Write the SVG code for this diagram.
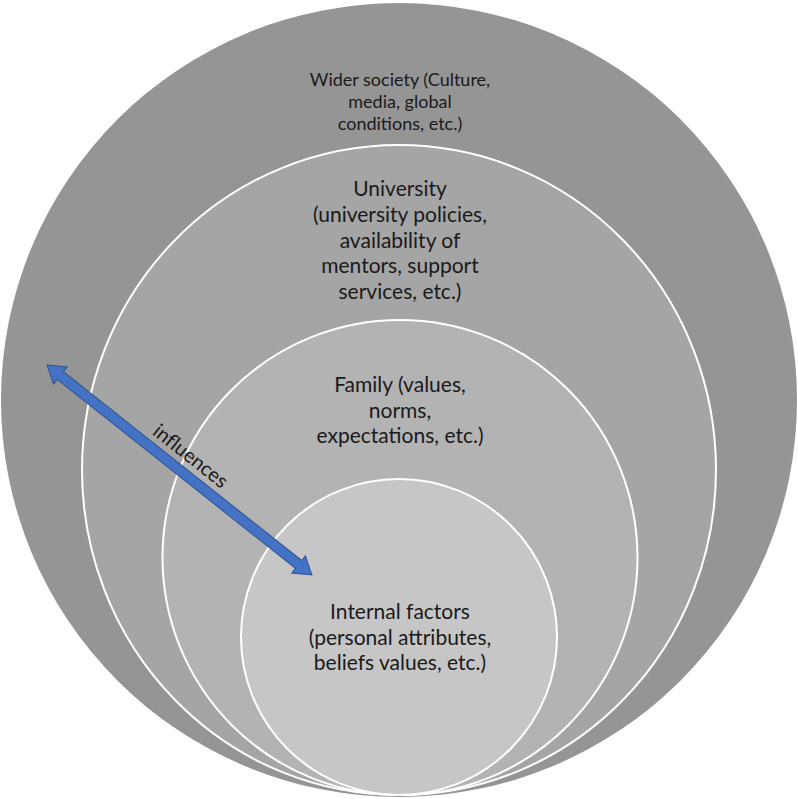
<svg xmlns="http://www.w3.org/2000/svg" width="798" height="799" viewBox="0 0 798 799">
<style>
.ring{stroke:#ffffff;stroke-width:2}
.lbl{font-family:Lato,"Open Sans",sans-serif;fill:#1a1a1a;text-anchor:middle}
.s16{font-size:18px}
.s18{font-size:21px}
.arrow{fill:#4472C4;stroke:#2F528F;stroke-width:1}
</style>
<rect x="0" y="0" width="798" height="799" fill="#ffffff"/>
<g id="wider-society">
<ellipse cx="399" cy="400" rx="398" ry="397" fill="#959595"/>
<text class="lbl s16" x="400" y="86">Wider society (Culture,</text>
<text class="lbl s16" x="400" y="108">media, global</text>
<text class="lbl s16" x="400" y="130">conditions, etc.)</text>
</g>
<g id="university">
<ellipse class="ring" cx="399" cy="470" rx="317" ry="325" fill="#a5a5a5"/>
<text class="lbl s18" x="400" y="196">University</text>
<text class="lbl s18" x="400" y="222">(university policies,</text>
<text class="lbl s18" x="400" y="247.5">availability of</text>
<text class="lbl s18" x="400" y="273">mentors, support</text>
<text class="lbl s18" x="400" y="298.5">services, etc.)</text>
</g>
<g id="family">
<circle class="ring" cx="400" cy="557.5" r="237.5" fill="#b3b3b3"/>
<text class="lbl s18" x="400" y="392">Family (values,</text>
<text class="lbl s18" x="400" y="417.5">norms,</text>
<text class="lbl s18" x="400" y="443">expectations, etc.)</text>
</g>
<g id="internal-factors">
<circle class="ring" cx="399" cy="637" r="158" fill="#c6c6c6"/>
<text class="lbl s18" x="400" y="619">Internal factors</text>
<text class="lbl s18" x="400" y="644.5">(personal attributes,</text>
<text class="lbl s18" x="400" y="670">beliefs values, etc.)</text>
</g>
<g id="connectors">
<g transform="translate(47,365) rotate(38.4)">
<polygon class="arrow" points="0,0 17,-11 17,-5 321,-5 321,-11 338,0 321,11 321,5 17,5 17,11"/>
<text class="lbl" style="font-size:20px" x="169" y="-11">influences</text>
</g>
</g>
</svg>
